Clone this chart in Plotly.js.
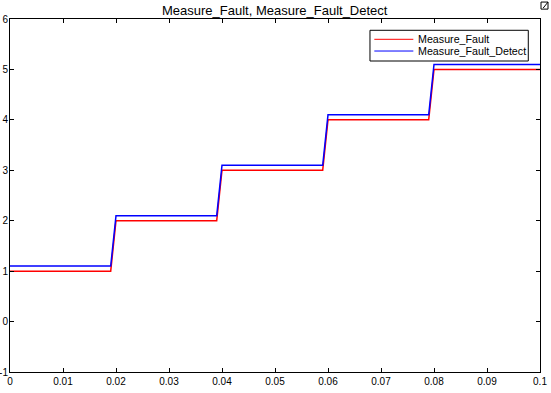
<!DOCTYPE html>
<html>
<head>
<meta charset="utf-8">
<script src="https://cdn.plot.ly/plotly-3.0.1.min.js"></script>
<style>html,body{margin:0;padding:0;background:#fff;}#chart{width:551px;height:393px;}</style>
</head>
<body>
<div id="chart"></div>
<script>
const time = [0, 0.019, 0.02, 0.039, 0.04, 0.059, 0.06, 0.079, 0.08, 0.1];
const measureFault = [1, 1, 2, 2, 3, 3, 4, 4, 5, 5];
const measureFaultDetect = [1.1, 1.1, 2.1, 2.1, 3.1, 3.1, 4.1, 4.1, 5.1, 5.1];
const seriesNames = ['Measure_Fault', 'Measure_Fault_Detect'];
const seriesColors = ['#ff0000', '#0000ff'];
const xTicks = [0, 0.01, 0.02, 0.03, 0.04, 0.05, 0.06, 0.07, 0.08, 0.09, 0.1];
const xTickText = ['0', '0.01', '0.02', '0.03', '0.04', '0.05', '0.06', '0.07', '0.08', '0.09', '0.1'];
const yTicks = [-1, 0, 1, 2, 3, 4, 5, 6];

const fam = 'Liberation Sans, Arial, sans-serif';
const font = {family: fam, size: 10, color: '#000'};
const traces = [
  {x: time, y: measureFault, name: seriesNames[0], type: 'scatter', mode: 'lines', line: {color: seriesColors[0], width: 1.5}},
  {x: time, y: measureFaultDetect, name: seriesNames[1], type: 'scatter', mode: 'lines', line: {color: seriesColors[1], width: 1.5}}
];

// legend box (MATLAB-style, compact)
const lg = {x0: 0.6792, x1: 0.9779, y0: 0.881, y1: 0.968, lx0: 0.6874, lx1: 0.761, tx: 0.7674, rows: [0.9425, 0.9093]};
const shapes = [
  {type: 'rect', xref: 'paper', yref: 'paper', x0: lg.x0, x1: lg.x1, y0: lg.y0, y1: lg.y1, line: {color: '#000', width: 1}, fillcolor: '#fff', layer: 'above'}
];
const annotations = [];
seriesNames.forEach((n, i) => {
  shapes.push({type: 'line', xref: 'paper', yref: 'paper', x0: lg.lx0, x1: lg.lx1, y0: lg.rows[i], y1: lg.rows[i], line: {color: seriesColors[i], width: 1}, layer: 'above'});
  annotations.push({xref: 'paper', yref: 'paper', x: lg.tx, y: lg.rows[i], xanchor: 'left', yanchor: 'middle', text: n, showarrow: false, font: {family: fam, size: 10.7, color: '#000'}, borderpad: 0});
});
// title as annotation for precise placement
annotations.push({xref: 'paper', yref: 'paper', x: 0.5, y: 1.024, xanchor: 'center', yanchor: 'middle', text: 'Measure_Fault, Measure_Fault_Detect', showarrow: false, font: {family: fam, size: 13, color: '#000'}, borderpad: 0});
// small figure icon at top-right corner
shapes.push({type: 'rect', xref: 'paper', yref: 'paper', x0: 1.0019, x1: 1.0151, y0: 1.028, y1: 1.048, line: {color: '#000', width: 1}, fillcolor: 'rgba(0,0,0,0)'});
shapes.push({type: 'line', xref: 'paper', yref: 'paper', x0: 1.006, x1: 1.0151, y0: 1.031, y1: 1.048, line: {color: '#000', width: 1}});

const axisCommon = {showgrid: false, zeroline: false, showline: true, linecolor: '#000', linewidth: 1, mirror: 'ticks', ticks: 'inside', ticklen: 4, tickcolor: '#000', tickfont: font};
const layout = {
  width: 551, height: 393,
  margin: {l: 10, r: 11, t: 19, b: 21},
  paper_bgcolor: '#fff', plot_bgcolor: '#fff',
  font: font,
  xaxis: Object.assign({}, axisCommon, {range: [0, 0.1], tickvals: xTicks, ticktext: xTickText}),
  yaxis: Object.assign({}, axisCommon, {range: [-1, 6], tickvals: yTicks, ticktext: yTicks.map(String), ticklabelstandoff: -1}),
  showlegend: false,
  shapes: shapes,
  annotations: annotations
};
Plotly.newPlot('chart', traces, layout, {displayModeBar: false, staticPlot: true});
</script>
</body>
</html>
